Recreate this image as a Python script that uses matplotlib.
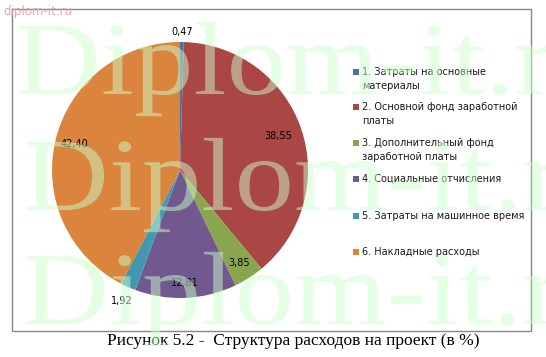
import matplotlib
matplotlib.use("Agg")
import matplotlib.pyplot as plt
from matplotlib.patches import Rectangle, PathPatch
from matplotlib.textpath import TextPath
from matplotlib.font_manager import FontProperties
from matplotlib.transforms import Affine2D
import numpy as np

categories = [
    "1. Затраты на основные\nматериалы",
    "2. Основной фонд заработной\nплаты",
    "3. Дополнительный фонд\nзаработной платы",
    "4. Социальные отчисления",
    "5. Затраты на машинное время",
    "6. Накладные расходы",
]
values = [0.47, 38.55, 3.85, 12.81, 1.92, 42.40]
value_labels = ["0,47", "38,55", "3,85", "12,81", "1,92", "42,40"]
caption = "Рисунок 5.2 -  Структура расходов на проект (в %)"
watermark = "Diplom-it.ru"

colors = ["#4572A7", "#AA4643", "#89A54E", "#71588F", "#4198AF", "#DB843D"]
label_radius = [1.08, 0.81, 0.86, 0.88, 1.12, 0.85]
legend_y = [72, 107, 143, 179, 216, 252]

W, H = 546, 357
fig = plt.figure(figsize=(W / 100, H / 100), dpi=100)
fig.patch.set_facecolor("white")

# chart frame
frame = fig.add_axes([0, 0, 1, 1])
frame.set_xlim(0, W)
frame.set_ylim(H, 0)
frame.axis("off")
frame.add_patch(Rectangle((11.5, 8.5), 519.5, 322.5, fill=False, edgecolor="#868686", lw=1))

# pie, centred at (180, 170) px, radius 128 px
cx, cy, R = 180, 170, 128
ax = fig.add_axes([(cx - R) / W, (H - cy - R) / H, 2 * R / W, 2 * R / H])
wedges, _ = ax.pie(values, colors=colors, startangle=90, counterclock=False, radius=1)
ax.set_xlim(-1, 1)
ax.set_ylim(-1, 1)
ax.set_aspect("equal")
ax.axis("off")

for w, lab, r in zip(wedges, value_labels, label_radius):
    mid = np.deg2rad((w.theta1 + w.theta2) / 2)
    ax.text(r * np.cos(mid), r * np.sin(mid), lab, ha="center", va="center",
            fontsize=7, family="DejaVu Sans", color="black", clip_on=False)

# legend drawn by hand to match Excel layout
for lab, col, y in zip(categories, colors, legend_y):
    frame.add_patch(Rectangle((353, y - 3), 6, 6, facecolor=col, edgecolor="none"))
    for k, line in enumerate(lab.split("\n")):
        frame.text(362, y + k * 14, line, ha="left", va="center", fontsize=7,
                   family="DejaVu Sans", color="#1a1a1a")

# caption
frame.text(293, 341, caption, ha="center", va="center", fontsize=12.5,
           family="Liberation Serif", color="black")

# watermark layer on top of everything
over = fig.add_axes([0, 0, 1, 1])
over.set_xlim(0, W)
over.set_ylim(H, 0)
over.axis("off")
over.patch.set_alpha(0)
tp = TextPath((0, 0), watermark, size=1, prop=FontProperties(family="Liberation Serif"))
for x0, base in [(15, 94), (23, 210), (23, 324)]:
    path = Affine2D().scale(119, -104).translate(x0, base).transform_path(tp)
    over.add_patch(PathPatch(path, facecolor=(0.8, 1.0, 0.8), edgecolor="none",
                             alpha=0.5, clip_on=True))
over.text(3, 11, "diplom-it.ru", ha="left", va="center", fontsize=8.5,
          family="DejaVu Sans", color="#e8a4a4")

fig.savefig("out.png", dpi=100)
